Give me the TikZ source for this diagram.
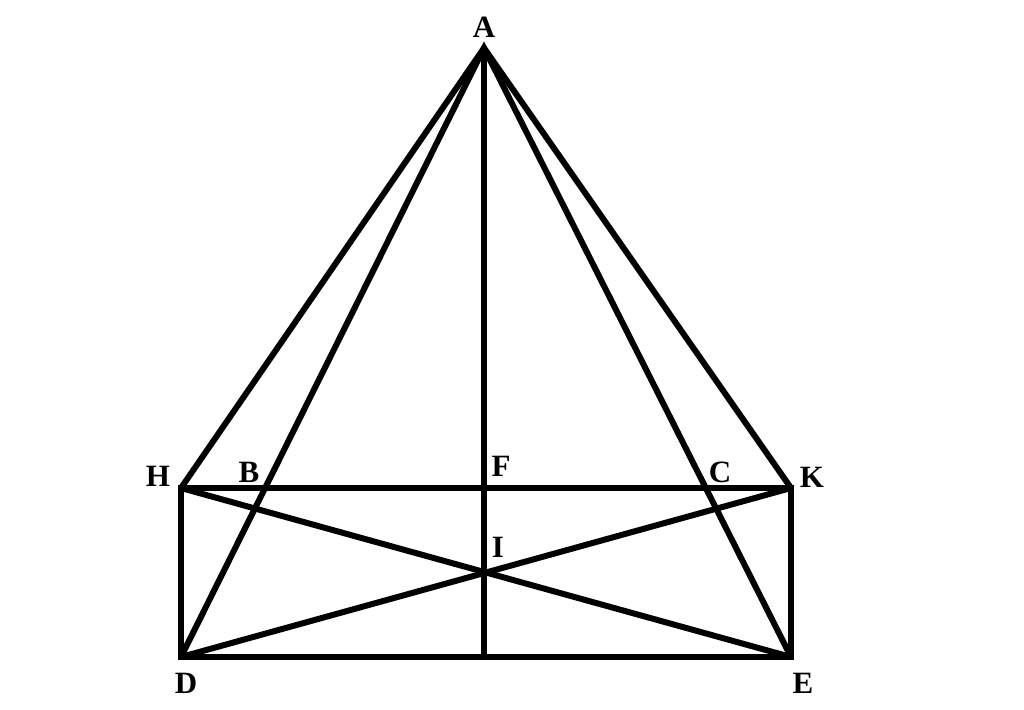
\documentclass[tikz,border=0pt]{standalone}
\usepackage{fontspec}
\setmainfont{Liberation Serif}
\begin{document}
\begin{tikzpicture}[x=1pt,y=-1pt,
  seg/.style={line width=6pt,line cap=round,line join=miter},
  lbl/.style={font=\fontsize{31}{32}\selectfont\bfseries,inner sep=0pt}]
\useasboundingbox (0,0) rectangle (1024,709);
\coordinate (A) at (484,48);
\coordinate (H) at (181,488);
\coordinate (K) at (791,488);
\coordinate (D) at (181,657);
\coordinate (E) at (791,657);
\coordinate (F) at (484,488);
\coordinate (G) at (484,657);
\coordinate (I) at (484,572.5);
\draw[seg] (H) -- (A) -- (K);
\draw[seg] (D) -- (A) -- (E);
\draw[seg] (A) -- (G);
\draw[seg] (H) -- (K) -- (E) -- (D) -- cycle;
\draw[seg] (H) -- (E);
\draw[seg] (D) -- (K);
\node[lbl] (lA) at (484,27) {A};
\node[lbl] (lH) at (158,476) {H};
\node[lbl] (lB) at (249,472) {B};
\node[lbl] (lF) at (501,466) {F};
\node[lbl] (lC) at (720,472) {C};
\node[lbl] (lK) at (812,477) {K};
\node[lbl] (lI) at (498,547) {I};
\node[lbl] (lD) at (186,683) {D};
\node[lbl] (lE) at (803,683) {E};
\end{tikzpicture}
\end{document}
